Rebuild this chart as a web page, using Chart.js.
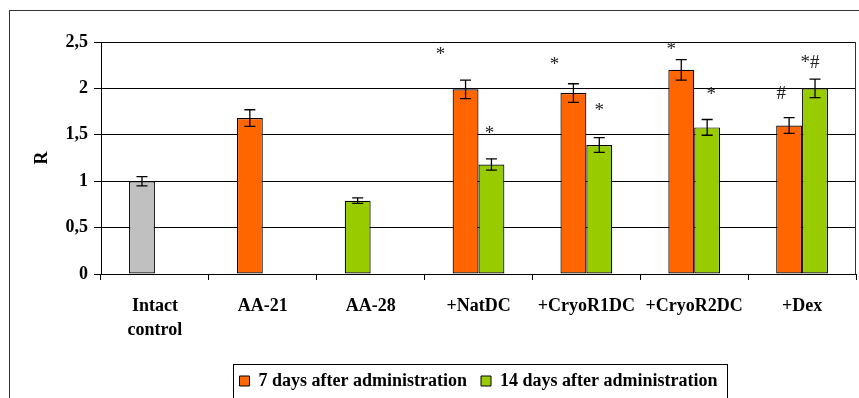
<!DOCTYPE html>
<html>
<head>
<meta charset="utf-8">
<script src="https://cdn.jsdelivr.net/npm/chart.js@4.4.1/dist/chart.umd.min.js"></script>
<style>
  html, body { margin: 0; padding: 0; background: #fff; overflow: hidden; }
  #wrap { position: relative; width: 859px; height: 420px; }
</style>
</head>
<body>
<div id="wrap"><canvas id="grafico"></canvas></div>
<script>
// dados do grafico
const grupos = [['Intact', 'control'], 'AA-21', 'AA-28', '+NatDC', '+CryoR1DC', '+CryoR2DC', '+Dex'];
const valores7 = [1.00, 1.68, 0.79, 1.99, 1.95, 2.20, 1.60];
const erros7 = [0.05, 0.09, 0.03, 0.10, 0.10, 0.11, 0.085];
const valores14 = [null, null, null, 1.18, 1.39, 1.58, 2.00];
const erros14 = [null, null, null, 0.06, 0.08, 0.085, 0.10];
const marcas7 = ['', '', '', '*', '*', '*', '#'];
const marcas14 = ['', '', '', '*', '*', '*', '*#'];
const ticksY = ['0', '0,5', '1', '1,5', '2', '2,5'];

const laranja = '#FF6600';
const verde = '#99CC00';
const cinza = '#C0C0C0';
// primeira barra de cada grupo: cinza no controle, verde no AA-28
const cores7 = [cinza, laranja, verde, laranja, laranja, laranja, laranja];

// deslocamento das marcas (px) em relacao ao topo da barra de erro
const deslocMarcas = [
  [null, null, null, [-25, 29], [-19, 23], [-10, 14], [-8, 24]],
  [null, null, null, [-2, 29], [0, 31], [4, 28], [-5, 16]]
];

const fonte = 'Liberation Serif, Times New Roman, serif';

// barras de erro, marcas e molduras
const extras = {
  id: 'extras',
  beforeDraw(chart) {
    const ctx = chart.ctx;
    ctx.save();
    ctx.strokeStyle = '#333';
    ctx.lineWidth = 1;
    ctx.strokeRect(9.5, 10.5, 1000, 1000);
    ctx.restore();
  },
  afterDatasetsDraw(chart) {
    const ctx = chart.ctx;
    const y = chart.scales.y;
    const erros = [erros7, erros14];
    const marcas = [marcas7, marcas14];
    ctx.save();
    chart.data.datasets.forEach((ds, d) => {
      const meta = chart.getDatasetMeta(d);
      meta.data.forEach((bar, i) => {
        const v = ds.data[i];
        const e = erros[d][i];
        if (v == null || e == null) return;
        const yTop = y.getPixelForValue(v + e);
        const yBot = y.getPixelForValue(v - e);
        ctx.strokeStyle = '#000';
        ctx.lineWidth = 1.3;
        ctx.beginPath();
        ctx.moveTo(bar.x, yTop); ctx.lineTo(bar.x, yBot);
        ctx.moveTo(bar.x - 5.5, yTop); ctx.lineTo(bar.x + 5.5, yTop);
        ctx.moveTo(bar.x - 5.5, yBot); ctx.lineTo(bar.x + 5.5, yBot);
        ctx.stroke();
        const m = marcas[d][i];
        const off = deslocMarcas[d][i];
        if (m && off) {
          ctx.fillStyle = '#222';
          ctx.font = '19px ' + fonte;
          ctx.textAlign = 'center';
          ctx.textBaseline = 'middle';
          ctx.fillText(m, bar.x + off[0], yTop - off[1] + (m === '*' ? 4 : 0));
        }
      });
    });
    // borda direita da area do grafico
    const a = chart.chartArea;
    ctx.strokeStyle = '#333';
    ctx.lineWidth = 1;
    ctx.beginPath();
    ctx.moveTo(Math.round(a.right) - 0.5, a.top);
    ctx.lineTo(Math.round(a.right) - 0.5, a.bottom);
    ctx.stroke();
    ctx.restore();
  },
  afterDraw(chart) {
    const hb = chart.legend.legendHitBoxes;
    if (!hb || !hb.length) return;
    const ctx = chart.ctx;
    const l = Math.round(hb[0].left - 7) + 0.5;
    const r = Math.round(hb[hb.length - 1].left + hb[hb.length - 1].width + 10) + 0.5;
    const t = Math.round(hb[0].top - 8) + 0.5;
    ctx.save();
    ctx.strokeStyle = '#000';
    ctx.lineWidth = 1;
    ctx.strokeRect(l, t, r - l, 200);
    ctx.restore();
  }
};

const dataR = {
  labels: grupos,
  datasets: [{
    label: '7 days after administration',
    data: valores7,
    backgroundColor: cores7,
    borderColor: '#000',
    borderWidth: 1.2,
    borderSkipped: false,
  }, {
    label: '14 days after administration',
    data: valores14,
    backgroundColor: verde,
    borderColor: '#000',
    borderWidth: 1.2,
    borderSkipped: false,
  }]
};

const configR = {
  type: 'bar',
  data: dataR,
  plugins: [extras],
  options: {
    responsive: false,
    animation: false,
    devicePixelRatio: 1,
    categoryPercentage: 0.48,
    barPercentage: 1,
    layout: { padding: { left: 21, right: 3, top: 42, bottom: 20 } },
    plugins: {
      tooltip: { enabled: false },
      legend: {
        position: 'bottom',
        fullSize: false,
        labels: {
          boxWidth: 10,
          boxHeight: 10,
          padding: 14,
          color: '#000',
          font: { family: fonte, size: 18, weight: 'bold' },
          generateLabels: () => [
            { text: dataR.datasets[0].label, fillStyle: laranja, strokeStyle: '#000', lineWidth: 1, datasetIndex: 0 },
            { text: dataR.datasets[1].label, fillStyle: verde, strokeStyle: '#000', lineWidth: 1, datasetIndex: 1 }
          ]
        }
      }
    },
    scales: {
      x: {
        grid: { drawOnChartArea: false, tickLength: 6, color: '#000' },
        border: { color: '#000' },
        ticks: {
          color: '#000',
          padding: 14,
          maxRotation: 0,
          autoSkip: false,
          font: { family: fonte, size: 18, weight: 'bold', lineHeight: 1.33 }
        },
        afterFit: (s) => { s.height = 84; }
      },
      y: {
        min: 0,
        max: 2.5,
        grid: { color: '#000', tickLength: 7 },
        border: { color: '#000' },
        ticks: {
          stepSize: 0.5,
          color: '#000',
          padding: 6,
          font: { family: fonte, size: 18, weight: 'bold' },
          callback: (v, i) => ticksY[i]
        },
        title: {
          display: true,
          text: 'R',
          color: '#000',
          padding: { top: 11, bottom: 0 },
          font: { family: fonte, size: 18, weight: 'bold' }
        },
        afterFit: (s) => { s.width = 80; }
      }
    }
  }
};

const cv = document.getElementById('grafico');
cv.width = 859;
cv.height = 420;
const graficoR = new Chart(cv, configR);
</script>
</body>
</html>
